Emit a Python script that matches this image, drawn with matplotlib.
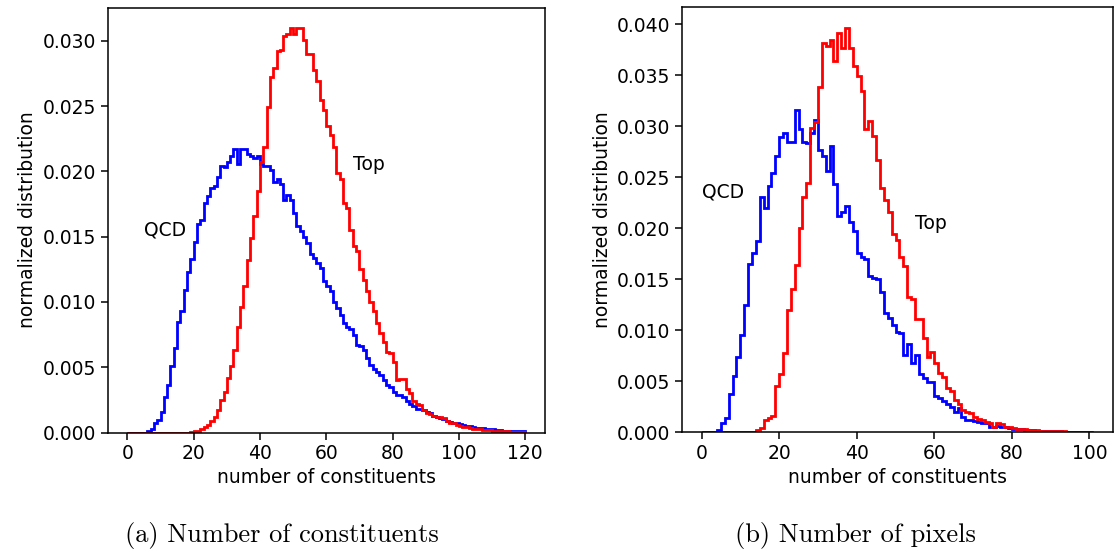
import numpy as np
import matplotlib
matplotlib.use("Agg")
import matplotlib.pyplot as plt

# bin heights, in units of 1e-3
# (a) number of constituents, bins of width 1 from 0 to 120
const_edges = np.arange(0, 121)
const_qcd = [
    0, 0, 0, 0, 0, 0, 0.1, 0.3, 0.7, 0.95,
    1.6, 2.7, 3.6, 5.1, 6.5, 8.5, 9.3, 10.9, 12.3, 13.3,
    14.6, 16.0, 16.3, 17.6, 18.1, 18.7, 18.9, 19.6, 20.4, 20.3,
    20.7, 21.2, 21.7, 20.6, 21.7, 21.7, 21.3, 21.2, 21.0, 21.2,
    20.6, 20.4, 20.4, 20.1, 19.2, 19.4, 19.0, 17.8, 18.2, 17.8,
    16.8, 15.8, 15.4, 15.0, 14.5, 13.7, 13.4, 13.0, 12.6, 11.6,
    11.2, 10.8, 10.0, 9.5, 9.0, 8.4, 8.1, 7.9, 7.5, 6.7,
    6.6, 6.3, 5.7, 5.2, 4.9, 4.6, 4.4, 4.0, 3.6, 3.5,
    3.1, 2.9, 2.9, 2.7, 2.4, 2.2, 2.0, 1.8, 1.8, 1.7,
    1.6, 1.5, 1.3, 1.2, 1.1, 1.0, 0.9, 0.8, 0.75, 0.7,
    0.63, 0.58, 0.52, 0.5, 0.45, 0.37, 0.37, 0.32, 0.3, 0.27,
    0.24, 0.2, 0.18, 0.15, 0.13, 0.12, 0.1, 0.1, 0.08, 0.08,
]
const_top = [
    0, 0, 0, 0, 0, 0, 0, 0, 0, 0,
    0, 0, 0, 0, 0, 0, 0, 0, 0, 0.03,
    0.08, 0.15, 0.25, 0.4, 0.6, 0.87, 1.2, 1.7, 2.5, 3.1,
    4.2, 5.1, 6.3, 8.1, 9.6, 11.2, 13.2, 14.9, 16.6, 18.5,
    20.7, 21.9, 24.9, 27.2, 27.9, 29.2, 29.3, 30.4, 30.5, 31.0,
    30.5, 31.0, 31.0, 30.1, 29.0, 29.0, 27.8, 26.9, 25.5, 24.7,
    23.5, 22.8, 21.9, 19.9, 19.4, 17.6, 17.2, 15.5, 14.3, 13.9,
    12.5, 11.7, 10.8, 10.0, 9.3, 8.4, 7.6, 6.9, 6.2, 6.1,
    5.4, 4.0, 4.1, 4.1, 3.3, 3.0, 2.4, 2.2, 2.1, 1.7,
    1.5, 1.4, 1.3, 1.2, 1.15, 1.1, 0.85, 0.75, 0.7, 0.58,
    0.5, 0.45, 0.4, 0.35, 0.3, 0.27, 0.25, 0.22, 0.2, 0.17,
    0.15, 0.12, 0.1, 0.1, 0.08, 0.06, 0.05, 0.05, 0.04, 0.03,
]

# (b) number of pixels, bins of width 1 from 0 to 101
pix_edges = np.arange(0, 102)
pix_qcd = [
    0, 0, 0, 0, 0.2, 0.9, 1.4, 3.8, 5.5, 7.4,
    9.5, 12.5, 16.5, 17.6, 18.8, 23.1, 22.0, 24.2, 25.4, 27.1,
    29.0, 29.4, 28.5, 28.5, 31.6, 29.7, 28.5, 28.4, 29.4, 30.6,
    27.7, 27.1, 25.6, 28.1, 24.4, 21.2, 21.6, 22.2, 20.6, 19.7,
    17.6, 17.2, 17.0, 15.3, 15.1, 15.0, 13.8, 11.7, 11.2, 10.5,
    9.8, 9.7, 7.6, 8.7, 6.8, 7.6, 5.7, 5.3, 4.9, 4.9,
    3.6, 3.4, 3.1, 2.8, 2.5, 2.0, 2.4, 1.5, 1.2, 1.2,
    1.1, 1.05, 0.95, 0.95, 0.55, 0.55, 0.6, 0.55, 0.5, 0.4,
    0.35, 0.3, 0.3, 0.25, 0.2, 0.2, 0.15, 0.15, 0.12, 0.1,
    0.1, 0.08, 0.08, 0.06, 0.05, 0.05, 0.04, 0.03, 0.03, 0.02,
    0.02,
]
pix_top = [
    0, 0, 0, 0, 0, 0, 0, 0, 0, 0.05,
    0.05, 0.05, 0.05, 0.05, 0.2, 0.4, 1.2, 1.4, 1.6, 4.5,
    5.7, 7.8, 12.0, 14.1, 16.4, 20.0, 23.1, 24.5, 29.8, 30.4,
    33.9, 38.2, 37.9, 38.5, 36.4, 39.2, 37.7, 39.7, 37.7, 35.9,
    34.9, 33.5, 29.7, 30.5, 29.1, 26.7, 24.0, 22.8, 21.6, 19.4,
    18.9, 17.2, 16.3, 13.3, 13.1, 11.1, 11.1, 9.2, 7.4, 7.9,
    6.8, 5.8, 5.4, 4.3, 4.0, 3.2, 2.8, 2.2, 2.0, 1.9,
    1.5, 1.3, 1.2, 1.05, 0.95, 0.55, 0.9, 0.8, 0.55, 0.5,
    0.4, 0.35, 0.3, 0.3, 0.25, 0.2, 0.2, 0.15, 0.15, 0.12,
    0.1, 0.1, 0.08, 0.08, 0.06, 0.05, 0.05, 0.04, 0.03, 0.03,
    0.02,
]

plt.rcParams.update({
    "font.size": 13.5,
    "axes.linewidth": 1.1,
    "xtick.major.size": 4.7,
    "ytick.major.size": 4.7,
    "xtick.major.width": 1.1,
    "ytick.major.width": 1.1,
})


def draw(ax, edges, qcd, top):
    ax.stairs(np.array(qcd) * 1e-3, edges, color="#0000ff", linewidth=2.0)
    ax.stairs(np.array(top) * 1e-3, edges, color="#ff0000", linewidth=2.0)
    ax.set_xlabel("number of constituents")
    ax.set_ylabel("normalized distribution")


fig = plt.figure(figsize=(11.2, 5.53), dpi=100)
ax1 = fig.add_axes([0.096, 0.2179, 0.3906, 0.7685])
ax2 = fig.add_axes([0.6089, 0.2183, 0.3848, 0.7685])

draw(ax1, const_edges, const_qcd, const_top)
ax1.set_xticks([0, 20, 40, 60, 80, 100, 120])
ax1.text(5.0, 0.0155, "QCD", va="center", ha="left")
ax1.text(68.0, 0.0205, "Top", va="center", ha="left")

draw(ax2, pix_edges, pix_qcd, pix_top)
ax2.set_xticks([0, 20, 40, 60, 80, 100])
ax2.text(0.0, 0.0236, "QCD", va="center", ha="left")
ax2.text(55.0, 0.0205, "Top", va="center", ha="left")

fig.text(0.2513, 0.031, "(a) Number of constituents", ha="center", va="center",
         family="cmr10", fontsize=19)
fig.text(0.764, 0.031, "(b) Number of pixels", ha="center", va="center",
         family="cmr10", fontsize=19)

fig.savefig("out.png", dpi=100)
